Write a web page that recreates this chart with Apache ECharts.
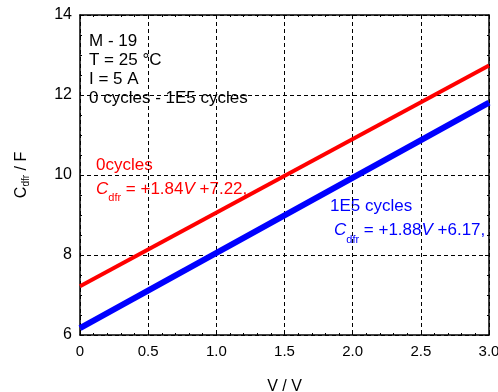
<!DOCTYPE html>
<html>
<head>
<meta charset="utf-8">
<script src="https://cdn.jsdelivr.net/npm/echarts@6/dist/echarts.min.js"></script>
<style>
  html, body { margin: 0; padding: 0; background: #fff; }
  #chart { width: 498px; height: 392px; }
</style>
</head>
<body>
<div id="chart"></div>
<script>
// data
const voltage = [0, 3]
const cycles0 = [7.22, 12.74]
const cycles1E5 = [6.17, 11.81]
const xTicks = ['0', '0.5', '1.0', '1.5', '2.0', '2.5', '3.0']
const infoLines = ['M - 19', 'T = 25 °C', 'I = 5 A', '0 cycles - 1E5 cycles']

const font = 'Liberation Sans, Arial, sans-serif'
const chart = echarts.init(document.getElementById('chart'))

const axisCommon = {
  axisLine: { show: true, onZero: false, lineStyle: { color: '#000', width: 1.5 } },
  axisTick: { show: true, inside: true, length: 4, lineStyle: { color: '#000' } },
  minorTick: { show: true, length: 2, lineStyle: { color: '#000' } },
  splitLine: { show: false }
}

const toPairs = (xs, ys) => xs.map((x, i) => [x, ys[i]])

const option = {
  backgroundColor: '#fff',
  animation: false,
  grid: { left: 80, right: 9, top: 15, bottom: 57, show: false, containLabel: false, outerBoundsMode: 'none' },
  xAxis: [
    {
      ...axisCommon,
      type: 'value', min: 0, max: 3, interval: 0.5, position: 'bottom',
      minorTick: { ...axisCommon.minorTick, splitNumber: 5 },
      splitLine: { show: true, lineStyle: { color: '#000', type: [4, 3], width: 1 } },
      axisLabel: {
        color: '#000', fontFamily: font, fontSize: 15, margin: 9,
        formatter: v => xTicks[Math.round(v / 0.5)]
      },
      name: 'V / V', nameLocation: 'middle', nameGap: 44,
      nameTextStyle: { color: '#000', fontFamily: font, fontSize: 16 }
    },
    {
      ...axisCommon,
      type: 'value', min: 0, max: 3, interval: 0.5, position: 'top',
      minorTick: { ...axisCommon.minorTick, splitNumber: 5 },
      axisLabel: { show: false }
    }
  ],
  yAxis: [
    {
      ...axisCommon,
      type: 'value', min: 6, max: 14, interval: 2, position: 'left',
      minorTick: { ...axisCommon.minorTick, splitNumber: 4 },
      splitLine: { show: true, lineStyle: { color: '#000', type: [4, 3], width: 1 } },
      axisLabel: { color: '#000', fontFamily: font, fontSize: 16, margin: 8 },
      name: '{a|C}{s|dfr}{a| / F}', nameLocation: 'middle', nameGap: 49, nameRotate: 90,
      nameTextStyle: {
        color: '#000', fontFamily: font,
        rich: {
          a: { fontSize: 16, fontFamily: font, color: '#000' },
          s: { fontSize: 10, fontFamily: font, color: '#000', verticalAlign: 'bottom', padding: [8, 0, 0, 0] }
        }
      }
    },
    {
      ...axisCommon,
      type: 'value', min: 6, max: 14, interval: 2, position: 'right',
      minorTick: { ...axisCommon.minorTick, splitNumber: 4 },
      axisLabel: { show: false }
    }
  ],
  series: [
    {
      name: '0cycles', type: 'line', data: toPairs(voltage, cycles0),
      showSymbol: false, lineStyle: { color: '#ff0000', width: 4 }, z: 3
    },
    {
      name: '1E5 cycles', type: 'line', data: toPairs(voltage, cycles1E5),
      showSymbol: false, lineStyle: { color: '#0000ff', width: 6 }, z: 4
    }
  ],
  graphic: [
    {
      type: 'text', left: 89, top: 32,
      style: { text: infoLines.join('\n'), font: '17px ' + font, fill: '#000', lineHeight: 19 }
    },
    {
      type: 'text', left: 96, top: 157,
      style: {
        text: '{n|0cycles}\n{i|C}{s|dfr}{n| = +1.84}{i|V}{n| +7.22,}',
        fill: '#ff0000',
        rich: {
          n: { fontSize: 17, fontFamily: font, fill: '#ff0000', lineHeight: 18 },
          i: { fontSize: 17, fontFamily: font, fontStyle: 'italic', fill: '#ff0000', lineHeight: 18 },
          s: { fontSize: 11, fontFamily: font, fill: '#ff0000', padding: [18, 0, 0, 0] }
        }
      }
    },
    {
      type: 'text', left: 330, top: 198,
      style: {
        text: '{n|1E5 cycles}\n{p| }{i|C}{s|dfr}{n| = +1.88}{i|V}{n| +6.17,}',
        fill: '#0000ff',
        rich: {
          n: { fontSize: 17, fontFamily: font, fill: '#0000ff', lineHeight: 19 },
          p: { fontSize: 17, fontFamily: font, width: 4 },
          i: { fontSize: 17, fontFamily: font, fontStyle: 'italic', fill: '#0000ff', lineHeight: 19 },
          s: { fontSize: 11, fontFamily: font, fill: '#0000ff', padding: [18, 0, 0, 0] }
        }
      }
    }
  ]
}

chart.setOption(option)
</script>
</body>
</html>
